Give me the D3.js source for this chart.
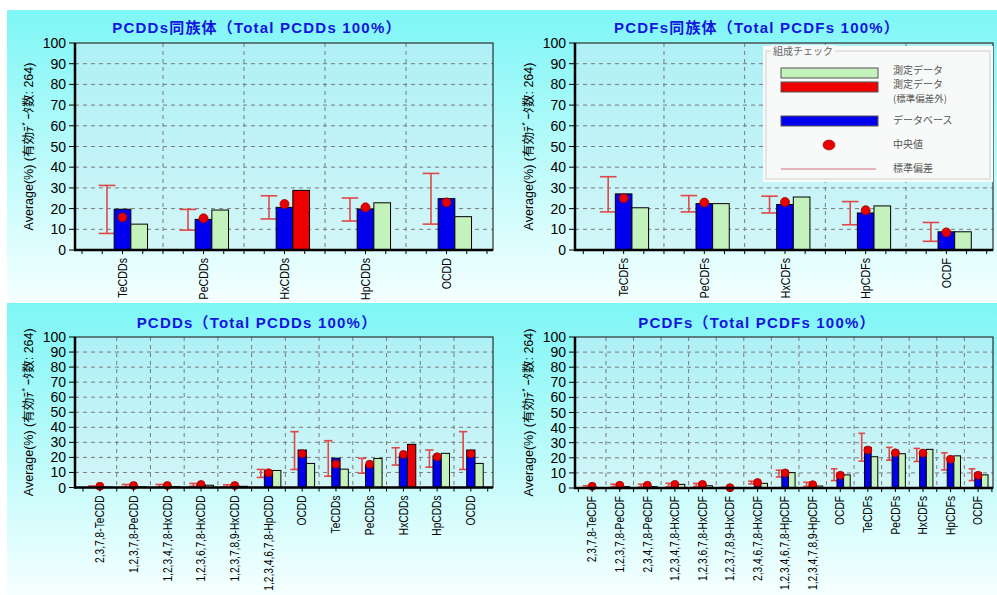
<!DOCTYPE html>
<html><head><meta charset="utf-8">
<script src="https://cdn.jsdelivr.net/npm/d3@7"></script>
<style>
html,body{margin:0;padding:0;background:#fff;}
svg{display:block;}
</style></head>
<body>
<svg id="c" width="997" height="595"></svg>
<script>
// ---------- DATA ----------
const yTicks = [0,10,20,30,40,50,60,70,80,90,100];
const yTitle = "Average(%) (有効ﾃﾞｰﾀ数: 264)";

// Top-left: PCDDs homologues
const tlTitle = "PCDDs同族体（Total PCDDs 100%）";
const tlCats = ["TeCDDs","PeCDDs","HxCDDs","HpCDDs","OCDD"];
const tlDb   = [19.7, 14.8, 20.6, 19.8, 24.8];
const tlMeas = [12.5, 19.3, 28.8, 22.8, 16.1];
const tlMed  = [15.8, 15.3, 22.2, 20.6, 23.0];
const tlLo   = [8.0, 9.6, 15.0, 14.0, 12.5];
const tlHi   = [31.2, 19.6, 26.2, 25.1, 37.0];

// Top-right: PCDFs homologues
const trTitle = "PCDFs同族体（Total PCDFs 100%）";
const trCats = ["TeCDFs","PeCDFs","HxCDFs","HpCDFs","OCDF"];
const trDb   = [27.1, 22.4, 22.0, 17.9, 8.8];
const trMeas = [20.4, 22.4, 25.6, 21.3, 8.8];
const trMed  = [25.0, 22.9, 23.2, 19.2, 8.5];
const trLo   = [18.4, 18.4, 17.9, 12.2, 4.2];
const trHi   = [35.4, 26.3, 26.0, 23.4, 13.3];

// Bottom-left: PCDDs congeners + homologues
const blTitle = "PCDDs（Total PCDDs 100%）";
const blCats = ["2,3,7,8-TeCDD","1,2,3,7,8-PeCDD","1,2,3,4,7,8-HxCDD","1,2,3,6,7,8-HxCDD","1,2,3,7,8,9-HxCDD","1,2,3,4,6,7,8-HpCDD","OCDD","TeCDDs","PeCDDs","HxCDDs","HpCDDs","OCDD"];
const blDb   = [0.4, 1.0, 1.1, 1.8, 1.1, 11.1, 24.9, 19.5, 15.0, 21.0, 21.0, 24.9];
const blMeas = [0.2, 0.4, 0.5, 1.5, 0.8, 11.3, 16.0, 12.2, 19.3, 28.7, 22.7, 16.0];
const blMed  = [0.8, 1.3, 1.3, 2.0, 1.3, 9.8, 22.4, 15.5, 15.5, 22.0, 20.4, 22.4];
const blLo   = [0.1, 0.3, 0.3, 0.8, 0.4, 6.7, 12.0, 7.5, 9.5, 14.9, 13.5, 12.0];
const blHi   = [1.0, 2.0, 2.0, 2.7, 1.8, 12.0, 37.1, 31.1, 19.4, 26.4, 24.9, 37.1];

// Bottom-right: PCDFs congeners + homologues
const brTitle = "PCDFs（Total PCDFs 100%）";
const brCats = ["2,3,7,8-TeCDF","1,2,3,7,8-PeCDF","2,3,4,7,8-PeCDF","1,2,3,4,7,8-HxCDF","1,2,3,6,7,8-HxCDF","1,2,3,7,8,9-HxCDF","2,3,4,6,7,8-HxCDF","1,2,3,4,6,7,8-HpCDF","1,2,3,4,7,8,9-HpCDF","OCDF","TeCDFs","PeCDFs","HxCDFs","HpCDFs","OCDF"];
const brDb   = [0.5, 1.4, 1.4, 2.4, 2.2, 0.2, 3.2, 11.1, 1.8, 10.0, 26.9, 23.3, 22.9, 18.9, 10.0];
const brMeas = [0.3, 0.9, 0.9, 2.4, 1.5, 0.1, 3.1, 10.2, 1.3, 8.7, 20.7, 22.7, 25.6, 21.3, 8.7];
const brMed  = [1.1, 1.8, 1.8, 2.4, 2.4, 0.2, 3.6, 10.0, 2.2, 8.4, 25.1, 23.3, 23.1, 19.1, 8.4];
const brLo   = [0.2, 0.8, 0.7, 0.9, 1.0, 0.0, 2.7, 7.3, 1.0, 4.9, 17.8, 18.4, 17.6, 12.0, 4.9];
const brHi   = [1.5, 2.5, 2.5, 3.1, 3.0, 0.4, 4.5, 11.8, 3.8, 12.7, 36.2, 26.9, 26.2, 23.3, 12.7];

// Legend
const legendTitle = "組成チェック";
const legendItems = [
  {type:"bar", color:"meas", label:["測定データ"]},
  {type:"bar", color:"out", label:["測定データ","(標準偏差外)"]},
  {type:"bar", color:"db", label:["データベース"]},
  {type:"dot", label:["中央値"]},
  {type:"line", label:["標準偏差"]}
];

// ---------- STYLE ----------
const C = {db:"#0000ee", meas:"#c4f2bc", out:"#ee0000", dot:"#e80000", dotStroke:"#a00000",
           err:"#e04848", grid:"#7a7a7a", title:"#1414e0"};

const svg = d3.select("#c");
const defs = svg.append("defs");
const pg = defs.append("linearGradient").attr("id","panelG").attr("x1",0).attr("y1",0).attr("x2",0).attr("y2",1);
pg.append("stop").attr("offset","0%").attr("stop-color","#7ef6f6");
pg.append("stop").attr("offset","100%").attr("stop-color","#f6ffff");
const ag = defs.append("linearGradient").attr("id","plotG").attr("x1",0).attr("y1",0).attr("x2",0).attr("y2",1);
ag.append("stop").attr("offset","0%").attr("stop-color","#aef0f6");
ag.append("stop").attr("offset","100%").attr("stop-color","#d2f6f8");

// panels
svg.append("rect").attr("x",7).attr("y",10).attr("width",990).attr("height",293).attr("fill","url(#panelG)");
svg.append("rect").attr("x",7).attr("y",303).attr("width",990).attr("height",292).attr("fill","url(#panelG)");

function drawChart(o){
  const g = svg.append("g");
  const {L,R,T,B} = o;
  g.append("rect").attr("x",L).attr("y",T).attr("width",R-L).attr("height",B-T).attr("fill","url(#plotG)");
  const y = d3.scaleLinear().domain([0,100]).range([B,T]);
  const x = d3.scaleBand().domain(o.cats.map((d,i)=>i)).range(o.band).paddingInner(0).paddingOuter(0);
  const bw = x.bandwidth()*o.barRatio;
  // grid horizontal
  g.selectAll(".hg").data(yTicks.filter(t=>t>0&&t<100)).join("line")
    .attr("x1",L).attr("x2",R).attr("y1",d=>y(d)).attr("y2",d=>y(d))
    .attr("stroke",C.grid).attr("stroke-width",1).attr("stroke-dasharray","4,4");
  // grid vertical
  g.selectAll(".vg").data(o.cats.slice(1).map((d,i)=>i+1)).join("line")
    .attr("x1",d=>x(d)).attr("x2",d=>x(d)).attr("y1",T).attr("y2",B)
    .attr("stroke",C.grid).attr("stroke-width",1).attr("stroke-dasharray","4,4");
  // frame
  g.append("rect").attr("x",L).attr("y",T).attr("width",R-L).attr("height",B-T)
    .attr("fill","none").attr("stroke","#303030").attr("stroke-width",1.2);
  const cx = i => x(i)+x.bandwidth()/2;
  // error bars
  const ex = i => cx(i) - bw*0.93;
  const eg = g.append("g").attr("stroke",C.err).attr("stroke-width",1.6).attr("fill","none");
  o.cats.forEach((c,i)=>{
    eg.append("line").attr("x1",ex(i)).attr("x2",ex(i)).attr("y1",y(o.lo[i])).attr("y2",y(o.hi[i]));
    eg.append("line").attr("x1",ex(i)-bw*0.5).attr("x2",ex(i)+bw*0.5).attr("y1",y(o.lo[i])).attr("y2",y(o.lo[i]));
    eg.append("line").attr("x1",ex(i)-bw*0.5).attr("x2",ex(i)+bw*0.5).attr("y1",y(o.hi[i])).attr("y2",y(o.hi[i]));
  });
  // db bars
  g.selectAll(".db").data(o.db).join("rect")
    .attr("x",(d,i)=>cx(i)-bw/2).attr("y",d=>y(d)).attr("width",bw).attr("height",d=>B-y(d))
    .attr("fill",C.db).attr("stroke","#000").attr("stroke-width",1);
  // measured bars
  g.selectAll(".ms").data(o.meas).join("rect")
    .attr("x",(d,i)=>cx(i)+bw/2).attr("y",d=>y(d)).attr("width",bw).attr("height",d=>B-y(d))
    .attr("fill",(d,i)=> (d<o.lo[i]||d>o.hi[i]) ? C.out : C.meas).attr("stroke","#000").attr("stroke-width",1);
  // median dots
  g.selectAll(".md").data(o.med).join("circle")
    .attr("cx",(d,i)=>cx(i)).attr("cy",d=>y(d)).attr("r",o.dotR)
    .attr("fill",C.dot).attr("stroke",C.dotStroke).attr("stroke-width",0.8);
  // axes lines
  g.append("line").attr("x1",L).attr("x2",L).attr("y1",T).attr("y2",B+1).attr("stroke","#000").attr("stroke-width",2.5);
  g.append("line").attr("x1",L-1).attr("x2",R).attr("y1",B).attr("y2",B).attr("stroke","#000").attr("stroke-width",2.5);
  // y ticks
  g.selectAll(".yt").data(yTicks).join("line")
    .attr("x1",L-6).attr("x2",L).attr("y1",d=>y(d)).attr("y2",d=>y(d)).attr("stroke","#000").attr("stroke-width",1);
  g.selectAll(".yl").data(yTicks).join("text")
    .attr("x",L-9).attr("y",d=>y(d)).attr("dy","0.36em").attr("text-anchor","end")
    .attr("font-family","'Liberation Sans',Arial,sans-serif").attr("font-size",o.yFont).attr("fill","#000")
    .text(d=>d);
  // x minor ticks
  const nsub = o.sub;
  const mt = [];
  for(let i=0;i<=o.cats.length*nsub;i++) mt.push(o.band[0] + i*x.bandwidth()/nsub);
  g.selectAll(".xt").data(mt).join("line")
    .attr("x1",d=>d).attr("x2",d=>d).attr("y1",B).attr("y2",B+4).attr("stroke","#000").attr("stroke-width",1);
  // x labels (condensed look)
  g.selectAll(".xl").data(o.cats).join("text")
    .attr("transform",(d,i)=>`translate(${cx(i)},${B+8}) rotate(-90) scale(${o.xScale},1)`)
    .attr("dy","0.35em").attr("text-anchor","end")
    .attr("font-family","'Liberation Sans',Arial,sans-serif").attr("font-size",o.xFont).attr("fill","#000")
    .text(d=>d);
  // y title
  g.append("text").attr("transform",`translate(${o.panelX+29},${(T+B)/2}) rotate(-90)`)
    .attr("dy","0.35em").attr("text-anchor","middle")
    .attr("font-family","'Liberation Sans','Noto Sans CJK JP',sans-serif").attr("font-size",12.5).attr("fill","#000")
    .text(yTitle);
  // title
  g.append("text").attr("x",o.titleX).attr("y",o.titleY).attr("dy","0.35em").attr("text-anchor","middle")
    .attr("font-family","'Liberation Sans','Noto Sans CJK JP',sans-serif").attr("font-weight","bold")
    .attr("font-size",15).attr("letter-spacing","1.2px").attr("fill",C.title).text(o.title);
  return g;
}

drawChart({panelX:0,L:75,R:493,T:43,B:250,band:[82,487],cats:tlCats,db:tlDb,meas:tlMeas,med:tlMed,lo:tlLo,hi:tlHi,
  barRatio:0.206,dotR:4.5,sub:4,yFont:14,xFont:13,xScale:0.82,title:tlTitle,titleX:257,titleY:28});
const trG = drawChart({panelX:500,L:575,R:993,T:43,B:250,band:[583.3,986.7],cats:trCats,db:trDb,meas:trMeas,med:trMed,lo:trLo,hi:trHi,
  barRatio:0.206,dotR:4.5,sub:4,yFont:14,xFont:13,xScale:0.82,title:trTitle,titleX:757,titleY:28});
drawChart({panelX:0,L:75,R:493,T:337,B:487.5,band:[83,487.7],cats:blCats,db:blDb,meas:blMeas,med:blMed,lo:blLo,hi:blHi,
  barRatio:0.245,dotR:4,sub:2,yFont:14,xFont:12,xScale:0.85,title:blTitle,titleX:257,titleY:323});
drawChart({panelX:500,L:575,R:993,T:337,B:488,band:[578.4,991.9],cats:brCats,db:brDb,meas:brMeas,med:brMed,lo:brLo,hi:brHi,
  barRatio:0.24,dotR:4,sub:2,yFont:14,xFont:12,xScale:0.85,title:brTitle,titleX:757,titleY:323});

// legend (top-right chart)
const lg = trG.append("g");
lg.append("rect").attr("x",763).attr("y",46).attr("width",230).attr("height",136).attr("fill","#f8f9f9");
lg.append("rect").attr("x",766).attr("y",51).attr("width",224).attr("height",128).attr("fill","none").attr("stroke","#d0d0d0").attr("stroke-width",1);
lg.append("rect").attr("x",771).attr("y",45).attr("width",64).attr("height",12).attr("fill","#f8f9f9");
lg.append("text").attr("x",773).attr("y",51).attr("dy","0.35em").attr("font-family","'Noto Sans CJK JP',sans-serif")
  .attr("font-size",10).attr("fill","#666").text(legendTitle);
const rowY = [73, 87, 121, 145, 169];
const labY = [[70],[84.5,99]];
labY.push([120],[144],[168]);
legendItems.forEach((it,k)=>{
  if(it.type==="bar"){
    lg.append("rect").attr("x",781).attr("y",rowY[k]-5).attr("width",97).attr("height",10)
      .attr("fill",C[it.color]).attr("stroke","#555").attr("stroke-width",1);
  } else if(it.type==="dot"){
    lg.append("ellipse").attr("cx",829).attr("cy",rowY[k]).attr("rx",6).attr("ry",5).attr("fill",C.dot).attr("stroke",C.dotStroke).attr("stroke-width",0.6);
  } else {
    lg.append("line").attr("x1",781).attr("x2",876).attr("y1",rowY[k]).attr("y2",rowY[k]).attr("stroke","#d07080").attr("stroke-width",1.2);
  }
  it.label.forEach((s,j)=>{
    lg.append("text").attr("x",893).attr("y",labY[k][j]).attr("dy","0.35em")
      .attr("font-family","'Noto Sans CJK JP',sans-serif").attr("font-size",j===1?9.5:10).attr("fill","#555").text(s);
  });
});
</script>
</body></html>
